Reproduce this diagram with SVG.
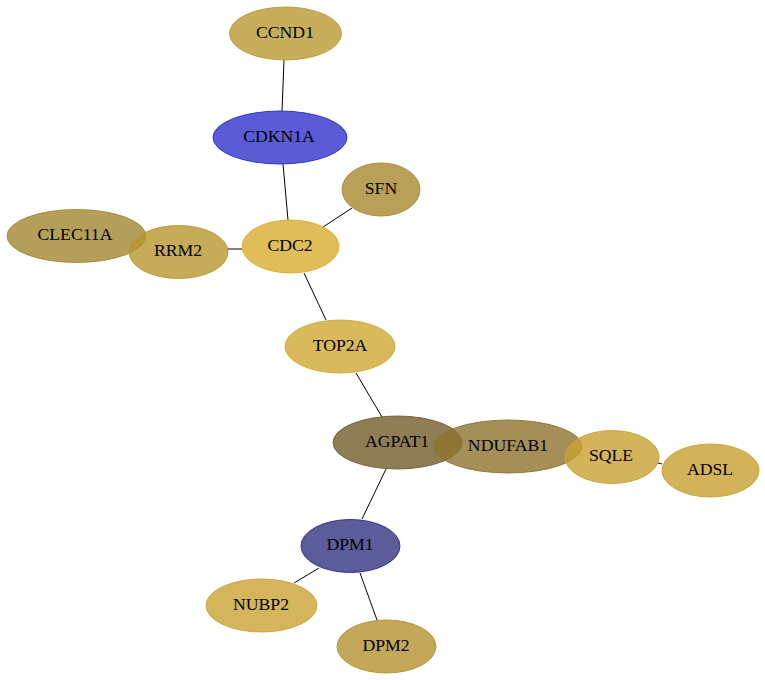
<svg xmlns="http://www.w3.org/2000/svg" width="765" height="680" viewBox="0 0 765 680">
<style>
.n ellipse{fill-opacity:0.8;stroke-opacity:0.9;stroke-width:1}
.n text{font-family:"Liberation Serif","Times New Roman",serif;font-size:17.7px;fill:#000;text-anchor:middle}
#edges line{stroke:#000;stroke-width:1}
</style>
<rect width="765" height="680" fill="#fff"/>
<g id="edges">
<line x1="284" y1="60" x2="282" y2="111"/>
<line x1="283" y1="164" x2="288" y2="220"/>
<line x1="352" y1="208" x2="323" y2="227"/>
<line x1="228" y1="249" x2="242" y2="249"/>
<line x1="304" y1="273" x2="326" y2="320"/>
<line x1="356" y1="373" x2="382" y2="417"/>
<line x1="386" y1="469" x2="362" y2="519"/>
<line x1="658" y1="463" x2="662" y2="464"/>
<line x1="319" y1="568" x2="294" y2="583"/>
<line x1="360" y1="573" x2="377" y2="620"/>
</g>
<g id="CCND1" class="n"><ellipse cx="285.5" cy="33.5" rx="56" ry="26.5" fill="#ba9831" stroke="#ba9831"/><text x="285" y="38">CCND1</text></g>
<g id="CDKN1A" class="n"><ellipse cx="280" cy="137.5" rx="67" ry="26.5" fill="#3232cc" stroke="#2a2acc"/><text x="279" y="141.7">CDKN1A</text></g>
<g id="SFN" class="n"><ellipse cx="381" cy="189.5" rx="39" ry="26.5" fill="#a7882e" stroke="#a7882e"/><text x="381" y="193.7">SFN</text></g>
<g id="CLEC11A" class="n"><ellipse cx="76.5" cy="236" rx="69.5" ry="26.5" fill="#a18731" stroke="#a18731"/><text x="75" y="240">CLEC11A</text></g>
<g id="RRM2" class="n"><ellipse cx="178.5" cy="252" rx="49.5" ry="26.5" fill="#b8962e" stroke="#b8962e"/><text x="178" y="256">RRM2</text></g>
<g id="CDC2" class="n"><ellipse cx="290.5" cy="246.5" rx="48.5" ry="26.5" fill="#d8ac2e" stroke="#d8ac2e"/><text x="290" y="250.5">CDC2</text></g>
<g id="TOP2A" class="n"><ellipse cx="340" cy="346.5" rx="55" ry="26.5" fill="#cea832" stroke="#cea832"/><text x="340" y="350.5">TOP2A</text></g>
<g id="AGPAT1" class="n"><ellipse cx="397.5" cy="442.5" rx="64.5" ry="26.5" fill="#725c2b" stroke="#725c2b"/><text x="397" y="446.5">AGPAT1</text></g>
<g id="NDUFAB1" class="n"><ellipse cx="508" cy="446.5" rx="74" ry="26.5" fill="#8e732e" stroke="#8e732e"/><text x="508" y="450.5">NDUFAB1</text></g>
<g id="SQLE" class="n"><ellipse cx="612" cy="457" rx="47" ry="26.5" fill="#c9a131" stroke="#c9a131"/><text x="611" y="461">SQLE</text></g>
<g id="ADSL" class="n"><ellipse cx="710.5" cy="470.5" rx="48.5" ry="26.5" fill="#c7a031" stroke="#c7a031"/><text x="710" y="474.5">ADSL</text></g>
<g id="DPM1" class="n"><ellipse cx="350.5" cy="546" rx="49.5" ry="26.5" fill="#353381" stroke="#2a2a90"/><text x="350" y="550">DPM1</text></g>
<g id="NUBP2" class="n"><ellipse cx="261.5" cy="605.5" rx="55.5" ry="26.5" fill="#c9a233" stroke="#c9a233"/><text x="261" y="609.5">NUBP2</text></g>
<g id="DPM2" class="n"><ellipse cx="386.5" cy="646.5" rx="49.5" ry="26.5" fill="#b49131" stroke="#b49131"/><text x="386" y="650.5">DPM2</text></g>
</svg>
